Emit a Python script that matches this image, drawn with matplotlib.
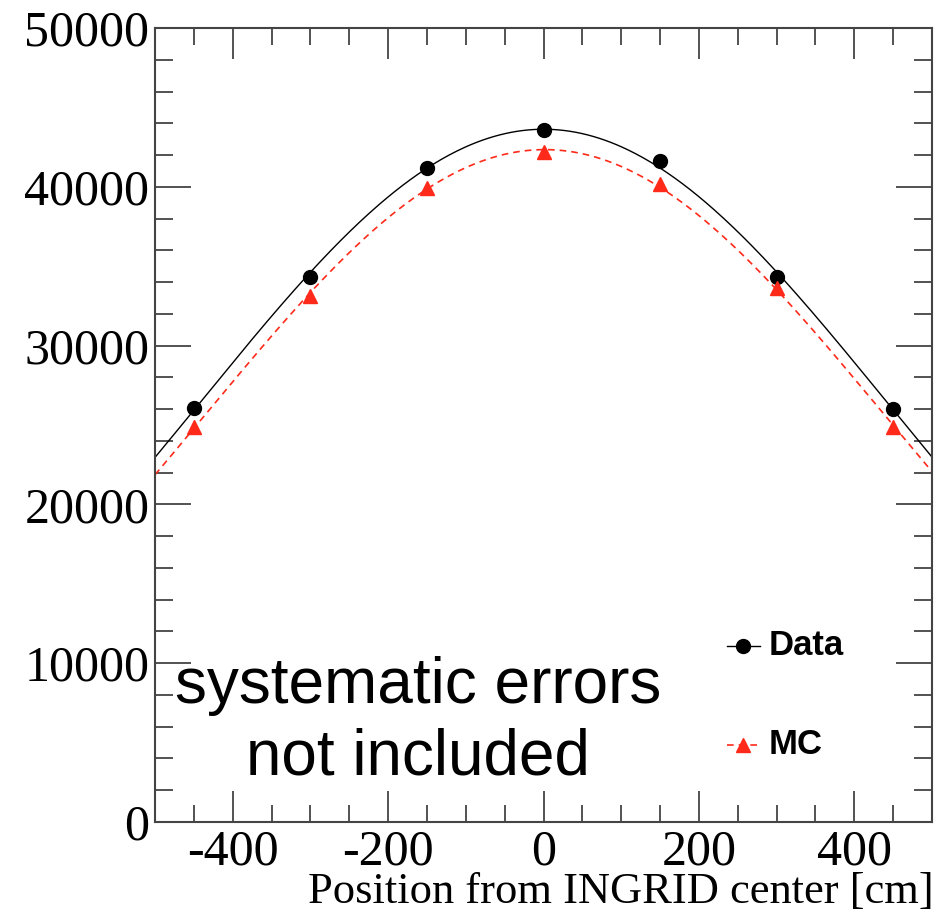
import matplotlib
matplotlib.use("Agg")
import matplotlib.pyplot as plt
import numpy as np
from matplotlib.ticker import MultipleLocator

plt.rcParams['axes.unicode_minus'] = False

# module positions [cm] and event counts
position = [-450, -300, -150, 0, 150, 300, 450]
data_counts = [26050, 34350, 41200, 43600, 41600, 34350, 26000]
mc_counts = [24900, 33100, 39900, 42200, 40200, 33600, 24900]


def gauss_fit(x, y):
    # gaussian fit as a parabola in log space
    c = np.polyfit(x, np.log(y), 2)
    xs = np.linspace(-500, 500, 400)
    return xs, np.exp(np.polyval(c, xs))


fig = plt.figure(figsize=(9.51, 9.15), dpi=100)
ax = fig.add_axes([155 / 951, 1 - 822 / 915, 777 / 951, 794 / 915])

xs, yd = gauss_fit(position, data_counts)
ax.plot(xs, yd, color='black', lw=1.0)
xs, ym = gauss_fit(position, mc_counts)
ax.plot(xs, ym, color='#ff2a1a', lw=1.2, ls=(0, (4, 3)))

ax.plot(position, data_counts, 'o', color='black', ms=10)
ax.plot(position, mc_counts, '^', color='#ff2a1a', ms=10)

ax.set_xlim(-500, 500)
ax.set_ylim(0, 50000)
ax.xaxis.set_major_locator(MultipleLocator(200))
ax.xaxis.set_minor_locator(MultipleLocator(50))
ax.yaxis.set_major_locator(MultipleLocator(10000))
ax.yaxis.set_minor_locator(MultipleLocator(2000))
ax.tick_params(which='both', direction='in', top=True, right=True,
               color='#444444', width=1.3)
ax.tick_params(which='major', length=22, labelsize=36, pad=5)
ax.tick_params(which='minor', length=12)
ax.tick_params(axis='y', which='major', length=26, pad=4)
ax.tick_params(axis='y', which='minor', length=13)
for lab in ax.get_xticklabels() + ax.get_yticklabels():
    lab.set_family('Liberation Serif')
for sp in ax.spines.values():
    sp.set_color('#444444')
    sp.set_linewidth(1.5)

fig.text(934 / 951, 1 - 892 / 915, 'Position from INGRID center [cm]',
         ha='right', va='center', fontsize=32, family='Liberation Serif')

ax.text(-162, 6300, 'systematic errors\nnot included', ha='center', va='center',
        fontsize=46, linespacing=1.25,
        family=['Liberation Sans Narrow', 'Liberation Sans'])

# legend drawn by hand: marker + short line + bold label
ax.plot([236, 279], [11100, 11100], color='black', lw=1.0)
ax.plot([257], [11100], 'o', color='black', ms=10)
ax.text(290, 11100, 'Data', ha='left', va='center', fontsize=25,
        fontweight='bold', family='Liberation Sans')
ax.plot([236, 279], [4850, 4850], color='#ff2a1a', lw=1.2, ls=(0, (4, 3)))
ax.plot([257], [4850], '^', color='#ff2a1a', ms=10)
ax.text(290, 4850, 'MC', ha='left', va='center', fontsize=25,
        fontweight='bold', family='Liberation Sans')

fig.savefig('out.png', dpi=100)
